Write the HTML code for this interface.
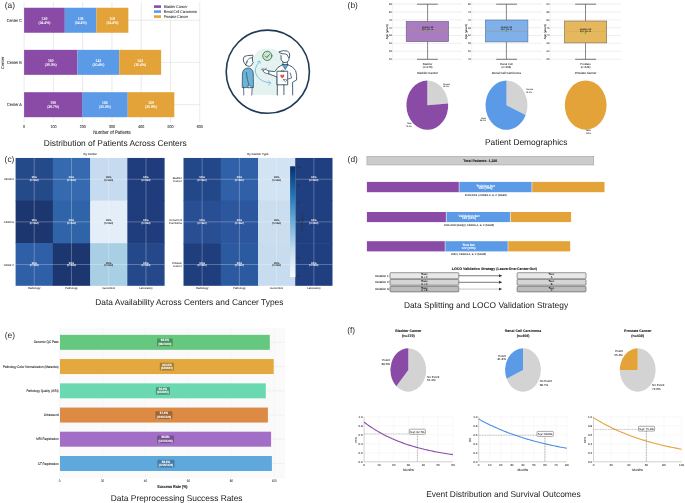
<!DOCTYPE html><html><head><meta charset="utf-8"><style>html,body{margin:0;padding:0;background:#fff;width:685px;height:503px;overflow:hidden}svg{display:block;will-change:transform}</style></head><body>
<svg width="685" height="503" viewBox="0 0 685 503" text-rendering="geometricPrecision" font-family='"Liberation Sans", sans-serif'>
<rect width="685" height="503" fill="#fff"/>
<text x="4.70" y="7.90" font-size="8.4" fill="#2a2a2a" text-anchor="start" font-weight="normal" >(a)</text>
<line x1="24.10" y1="2.30" x2="24.10" y2="121.90" stroke="#dcdcdc" stroke-width="0.6" />
<line x1="53.38" y1="2.30" x2="53.38" y2="121.90" stroke="#dcdcdc" stroke-width="0.6" />
<line x1="82.66" y1="2.30" x2="82.66" y2="121.90" stroke="#dcdcdc" stroke-width="0.6" />
<line x1="111.94" y1="2.30" x2="111.94" y2="121.90" stroke="#dcdcdc" stroke-width="0.6" />
<line x1="141.22" y1="2.30" x2="141.22" y2="121.90" stroke="#dcdcdc" stroke-width="0.6" />
<line x1="170.50" y1="2.30" x2="170.50" y2="121.90" stroke="#dcdcdc" stroke-width="0.6" />
<line x1="199.78" y1="2.30" x2="199.78" y2="121.90" stroke="#dcdcdc" stroke-width="0.6" />
<line x1="24.10" y1="20.25" x2="199.80" y2="20.25" stroke="#dcdcdc" stroke-width="0.6" />
<rect x="24.10" y="7.75" width="40.70" height="25.00" fill="#8a4ba6" />
<text transform="translate(44.45,19.55) scale(1,1.15)" font-size="3.4" fill="#fff" text-anchor="middle" font-weight="normal" stroke="#fff" stroke-width="0.068" >139</text>
<text transform="translate(44.45,23.55) scale(1,1.15)" font-size="3.4" fill="#fff" text-anchor="middle" font-weight="normal" stroke="#fff" stroke-width="0.068" >(34.4%)</text>
<rect x="64.80" y="7.75" width="31.62" height="25.00" fill="#5b9ae6" />
<text transform="translate(80.61,19.55) scale(1,1.15)" font-size="3.4" fill="#fff" text-anchor="middle" font-weight="normal" stroke="#fff" stroke-width="0.068" >108</text>
<text transform="translate(80.61,23.55) scale(1,1.15)" font-size="3.4" fill="#fff" text-anchor="middle" font-weight="normal" stroke="#fff" stroke-width="0.068" >(34.4%)</text>
<rect x="96.42" y="7.75" width="31.92" height="25.00" fill="#e3a339" />
<text transform="translate(112.38,19.55) scale(1,1.15)" font-size="3.4" fill="#fff" text-anchor="middle" font-weight="normal" stroke="#fff" stroke-width="0.068" >109</text>
<text transform="translate(112.38,23.55) scale(1,1.15)" font-size="3.4" fill="#fff" text-anchor="middle" font-weight="normal" stroke="#fff" stroke-width="0.068" >(34.4%)</text>
<text transform="translate(21.90,21.55) scale(1,1.15)" font-size="3.8" fill="#333" text-anchor="end" font-weight="normal" stroke="#333" stroke-width="0.076" >Center C</text>
<line x1="24.10" y1="62.35" x2="199.80" y2="62.35" stroke="#dcdcdc" stroke-width="0.6" />
<rect x="24.10" y="49.85" width="53.29" height="25.00" fill="#8a4ba6" />
<text transform="translate(50.74,61.65) scale(1,1.15)" font-size="3.4" fill="#fff" text-anchor="middle" font-weight="normal" stroke="#fff" stroke-width="0.068" >182</text>
<text transform="translate(50.74,65.65) scale(1,1.15)" font-size="3.4" fill="#fff" text-anchor="middle" font-weight="normal" stroke="#fff" stroke-width="0.068" >(39.3%)</text>
<rect x="77.39" y="49.85" width="41.87" height="25.00" fill="#5b9ae6" />
<text transform="translate(98.32,61.65) scale(1,1.15)" font-size="3.4" fill="#fff" text-anchor="middle" font-weight="normal" stroke="#fff" stroke-width="0.068" >143</text>
<text transform="translate(98.32,65.65) scale(1,1.15)" font-size="3.4" fill="#fff" text-anchor="middle" font-weight="normal" stroke="#fff" stroke-width="0.068" >(30.4%)</text>
<rect x="119.26" y="49.85" width="41.87" height="25.00" fill="#e3a339" />
<text transform="translate(140.20,61.65) scale(1,1.15)" font-size="3.4" fill="#fff" text-anchor="middle" font-weight="normal" stroke="#fff" stroke-width="0.068" >143</text>
<text transform="translate(140.20,65.65) scale(1,1.15)" font-size="3.4" fill="#fff" text-anchor="middle" font-weight="normal" stroke="#fff" stroke-width="0.068" >(30.4%)</text>
<text transform="translate(21.90,63.65) scale(1,1.15)" font-size="3.8" fill="#333" text-anchor="end" font-weight="normal" stroke="#333" stroke-width="0.076" >Center B</text>
<line x1="24.10" y1="104.70" x2="199.80" y2="104.70" stroke="#dcdcdc" stroke-width="0.6" />
<rect x="24.10" y="92.20" width="57.97" height="25.00" fill="#8a4ba6" />
<text transform="translate(53.09,104.00) scale(1,1.15)" font-size="3.4" fill="#fff" text-anchor="middle" font-weight="normal" stroke="#fff" stroke-width="0.068" >198</text>
<text transform="translate(53.09,108.00) scale(1,1.15)" font-size="3.4" fill="#fff" text-anchor="middle" font-weight="normal" stroke="#fff" stroke-width="0.068" >(38.7%)</text>
<rect x="82.07" y="92.20" width="45.68" height="25.00" fill="#5b9ae6" />
<text transform="translate(104.91,104.00) scale(1,1.15)" font-size="3.4" fill="#fff" text-anchor="middle" font-weight="normal" stroke="#fff" stroke-width="0.068" >156</text>
<text transform="translate(104.91,108.00) scale(1,1.15)" font-size="3.4" fill="#fff" text-anchor="middle" font-weight="normal" stroke="#fff" stroke-width="0.068" >(30.3%)</text>
<rect x="127.75" y="92.20" width="46.56" height="25.00" fill="#e3a339" />
<text transform="translate(151.03,104.00) scale(1,1.15)" font-size="3.4" fill="#fff" text-anchor="middle" font-weight="normal" stroke="#fff" stroke-width="0.068" >159</text>
<text transform="translate(151.03,108.00) scale(1,1.15)" font-size="3.4" fill="#fff" text-anchor="middle" font-weight="normal" stroke="#fff" stroke-width="0.068" >(30.9%)</text>
<text transform="translate(21.90,106.00) scale(1,1.15)" font-size="3.8" fill="#333" text-anchor="end" font-weight="normal" stroke="#333" stroke-width="0.076" >Center A</text>
<text transform="translate(24.10,127.60) scale(1,1.15)" font-size="3.6" fill="#333" text-anchor="middle" font-weight="normal" stroke="#333" stroke-width="0.072" >0</text>
<text transform="translate(53.38,127.60) scale(1,1.15)" font-size="3.6" fill="#333" text-anchor="middle" font-weight="normal" stroke="#333" stroke-width="0.072" >100</text>
<text transform="translate(82.66,127.60) scale(1,1.15)" font-size="3.6" fill="#333" text-anchor="middle" font-weight="normal" stroke="#333" stroke-width="0.072" >200</text>
<text transform="translate(111.94,127.60) scale(1,1.15)" font-size="3.6" fill="#333" text-anchor="middle" font-weight="normal" stroke="#333" stroke-width="0.072" >300</text>
<text transform="translate(141.22,127.60) scale(1,1.15)" font-size="3.6" fill="#333" text-anchor="middle" font-weight="normal" stroke="#333" stroke-width="0.072" >400</text>
<text transform="translate(170.50,127.60) scale(1,1.15)" font-size="3.6" fill="#333" text-anchor="middle" font-weight="normal" stroke="#333" stroke-width="0.072" >500</text>
<text transform="translate(199.78,127.60) scale(1,1.15)" font-size="3.6" fill="#333" text-anchor="middle" font-weight="normal" stroke="#333" stroke-width="0.072" >600</text>
<text transform="translate(112.00,133.50) scale(1,1.15)" font-size="4.4" fill="#333" text-anchor="middle" font-weight="normal" stroke="#333" stroke-width="0.088" >Number of Patients</text>
<text x="0.00" y="0.00" font-size="4.1" fill="#333" text-anchor="middle" font-weight="normal" stroke="#333" stroke-width="0.082" transform="translate(4.0,62.75) rotate(-90)">Center</text>
<rect x="151.00" y="2.80" width="48.00" height="16.70" fill="#fff" fill-opacity="0.8"/>
<rect x="154.00" y="5.30" width="7.00" height="2.60" fill="#8a4ba6" />
<text transform="translate(163.70,7.80) scale(1,1.15)" font-size="3.4" fill="#333" text-anchor="start" font-weight="normal" stroke="#333" stroke-width="0.068" >Bladder Cancer</text>
<rect x="154.00" y="10.30" width="7.00" height="2.60" fill="#5b9ae6" />
<text transform="translate(163.70,12.80) scale(1,1.15)" font-size="3.4" fill="#333" text-anchor="start" font-weight="normal" stroke="#333" stroke-width="0.068" >Renal Cell Carcinoma</text>
<rect x="154.00" y="15.30" width="7.00" height="2.60" fill="#e3a339" />
<text transform="translate(163.70,17.80) scale(1,1.15)" font-size="3.4" fill="#333" text-anchor="start" font-weight="normal" stroke="#333" stroke-width="0.068" >Prostate Cancer</text>
<text x="115.30" y="146.40" font-size="8.4" fill="#1a1a1a" text-anchor="middle" font-weight="normal" >Distribution of Patients Across Centers</text>
<g stroke-linejoin="round" stroke-linecap="round">
<circle cx="267.8" cy="71.7" r="41.6" fill="none" stroke="#1f3a56" stroke-width="1.6"/>
<path d="M252.5,95 L252.5,64 Q253.5,48.6 267,48.6 Q283.5,48.6 284,64 L284,95 Z" fill="#e4f3ef"/>
<circle cx="267.3" cy="55.9" r="4.6" fill="#c8e7cf" stroke="#2d5a45" stroke-width="0.75"/>
<path d="M265.2,56.0 L266.8,57.6 L269.4,54.6" fill="none" stroke="#2d5a45" stroke-width="0.8"/>
<path d="M259.5,61.5 Q252.5,69 257,76 Q261,82 270.5,83" fill="none" stroke="#74bde0" stroke-width="0.9"/>
<path d="M257.8,61.6 L259.8,61.0 L260.2,63.2" fill="none" stroke="#74bde0" stroke-width="0.9"/>
<path d="M268.6,81.0 L270.8,83.0 L268.6,84.9" fill="none" stroke="#74bde0" stroke-width="0.9"/>
<path d="M242.2,87.2 L242.4,74 Q242.8,68.2 248.2,68.0 Q253.0,68.2 253.3,74 L253.4,87.2 Z" fill="#6cb3d8" stroke="#1f3a56" stroke-width="0.7"/>
<path d="M246.3,72.5 Q247,80 249.3,86.2" fill="none" stroke="#1f3a56" stroke-width="0.6"/>
<path d="M248.2,85.6 L250.6,85.6 L250.8,87.6 L248.6,87.8 Z" fill="#fff" stroke="#1f3a56" stroke-width="0.5"/>
<path d="M243.6,87.2 L243.8,95 M252.2,87.2 L251.8,95" fill="none" stroke="#1f3a56" stroke-width="0.7"/>
<path d="M245.8,65.0 Q243.0,62.2 243.2,59.0 Q243.4,55.6 247.5,55.6 L252.8,55.2 Q253.0,57.0 252.4,57.6 L252.6,61.6 L253.4,62.6 L252.5,63.2 Q252.0,66.2 249.5,66.4 Q247.2,66.2 245.8,65.0 Z" fill="#fff" stroke="#1f3a56" stroke-width="0.8"/>
<path d="M252.4,57.6 Q248.6,57.8 247.3,60.4 Q246.4,62.2 246.0,64.2" fill="none" stroke="#1f3a56" stroke-width="0.7"/>
<path d="M247.8,61.6 Q246.6,61.2 246.8,62.8" fill="none" stroke="#1f3a56" stroke-width="0.5"/>
<path d="M277.3,95 L277.3,78 L276.6,76.8 L268.6,73.9 L268.4,70.9 L274.8,71.6 Q277.4,66.6 282.4,64.8 L288.0,64.8 Q293.0,66.2 295.6,70.6 Q297.2,75.5 296.6,80.0 L292.6,82.2 L292.7,95" fill="#fff" stroke="#1f3a56" stroke-width="0.8"/>
<path d="M282.4,64.8 L285.2,69.6 L288.0,64.8 Z" fill="#5aaad6" stroke="#1f3a56" stroke-width="0.55"/>
<path d="M282.9,61.6 L282.9,64.8 M287.4,61.6 L287.4,64.8" fill="none" stroke="#1f3a56" stroke-width="0.7"/>
<path d="M281.0,55.6 L281.2,59.8 Q282.5,62.6 285.0,62.7 Q288.0,62.6 288.9,59.6 L289.1,56.4" fill="#fff" stroke="#1f3a56" stroke-width="0.8"/>
<path d="M279.4,51.6 Q284.0,49.8 287.5,51.2 Q290.4,52.6 289.7,56.0 L289.3,57.9 Q288.3,57.7 287.9,56.4 Q287.5,54.3 285.4,54.0 Q282.0,54.0 279.6,52.8 Z" fill="#fff" stroke="#1f3a56" stroke-width="0.8"/>
<path d="M268.6,71.0 L265.6,69.4 L262.0,68.9 Q261.2,69.4 262.2,70.0 L264.2,70.6 L263.0,71.2 Q263.6,72.6 265.8,73.2 L268.6,73.9 Z" fill="#fff" stroke="#1f3a56" stroke-width="0.65"/>
<path d="M265.2,69.3 L266.4,68.2" fill="none" stroke="#1f3a56" stroke-width="0.6"/>
<path d="M290.2,73.0 L291.6,78.0 L286.6,79.4" fill="none" stroke="#1f3a56" stroke-width="0.7"/>
<rect x="277.3" y="71.2" width="10.4" height="13.6" fill="#fff" stroke="#1f3a56" stroke-width="0.8"/>
<path d="M281.2,71.2 L281.8,70.2 L283.4,70.2 L284.0,71.2 Z" fill="#fff" stroke="#1f3a56" stroke-width="0.5"/>
<path d="M282.3,78.4 L280.4,76.4 Q279.8,74.8 281.2,74.5 Q282.0,74.4 282.3,75.2 Q282.7,74.4 283.5,74.5 Q284.8,74.8 284.2,76.4 Z" fill="#e2584c"/>
<path d="M283.6,79.6 Q286.0,78.6 287.0,80.2 L285.4,81.6 Q284.2,81.4 283.6,79.6 Z" fill="#fff" stroke="#1f3a56" stroke-width="0.55"/>
<path d="M283.9,84.8 L283.9,94.6" fill="none" stroke="#1f3a56" stroke-width="0.8"/>
</g>
<text x="347.60" y="8.00" font-size="8.4" fill="#2a2a2a" text-anchor="start" font-weight="normal" >(b)</text>
<line x1="392.60" y1="1.20" x2="392.60" y2="62.20" stroke="#e6e6e6" stroke-width="0.5" />
<line x1="392.60" y1="4.10" x2="462.10" y2="4.10" stroke="#e2e2e2" stroke-width="0.6" />
<line x1="392.60" y1="12.00" x2="462.10" y2="12.00" stroke="#e2e2e2" stroke-width="0.6" />
<line x1="392.60" y1="19.90" x2="462.10" y2="19.90" stroke="#e2e2e2" stroke-width="0.6" />
<line x1="392.60" y1="27.70" x2="462.10" y2="27.70" stroke="#e2e2e2" stroke-width="0.6" />
<line x1="392.60" y1="35.50" x2="462.10" y2="35.50" stroke="#e2e2e2" stroke-width="0.6" />
<line x1="392.60" y1="43.30" x2="462.10" y2="43.30" stroke="#e2e2e2" stroke-width="0.6" />
<line x1="392.60" y1="51.20" x2="462.10" y2="51.20" stroke="#e2e2e2" stroke-width="0.6" />
<line x1="392.60" y1="59.20" x2="462.10" y2="59.20" stroke="#e2e2e2" stroke-width="0.6" />
<text x="391.90" y="5.05" font-size="2.6" fill="#444" text-anchor="end" font-weight="normal" stroke="#444" stroke-width="0.052" >85</text>
<text x="391.90" y="12.95" font-size="2.6" fill="#444" text-anchor="end" font-weight="normal" stroke="#444" stroke-width="0.052" >80</text>
<text x="391.90" y="20.85" font-size="2.6" fill="#444" text-anchor="end" font-weight="normal" stroke="#444" stroke-width="0.052" >75</text>
<text x="391.90" y="28.65" font-size="2.6" fill="#444" text-anchor="end" font-weight="normal" stroke="#444" stroke-width="0.052" >70</text>
<text x="391.90" y="36.45" font-size="2.6" fill="#444" text-anchor="end" font-weight="normal" stroke="#444" stroke-width="0.052" >65</text>
<text x="391.90" y="44.25" font-size="2.6" fill="#444" text-anchor="end" font-weight="normal" stroke="#444" stroke-width="0.052" >60</text>
<text x="391.90" y="52.15" font-size="2.6" fill="#444" text-anchor="end" font-weight="normal" stroke="#444" stroke-width="0.052" >55</text>
<text x="391.90" y="60.15" font-size="2.6" fill="#444" text-anchor="end" font-weight="normal" stroke="#444" stroke-width="0.052" >50</text>
<text x="0.00" y="0.00" font-size="3.0" fill="#333" text-anchor="middle" font-weight="normal" stroke="#333" stroke-width="0.060" transform="translate(388.20,31.6) rotate(-90)">Age (years)</text>
<line x1="427.60" y1="4.10" x2="427.60" y2="21.40" stroke="#555" stroke-width="0.7" />
<line x1="427.60" y1="41.70" x2="427.60" y2="59.20" stroke="#555" stroke-width="0.7" />
<line x1="417.00" y1="4.20" x2="437.80" y2="4.20" stroke="#555" stroke-width="0.8" />
<line x1="417.00" y1="59.30" x2="437.80" y2="59.30" stroke="#555" stroke-width="0.8" />
<rect x="406.20" y="21.40" width="42.40" height="20.30" fill="#a87dc0" stroke="#6a5a78" stroke-width="0.6"/>
<line x1="406.20" y1="30.70" x2="448.60" y2="30.70" stroke="#b8867a" stroke-width="0.5" />
<circle cx="427.60" cy="31.20" r="0.9" fill="#3fbf3f"/>
<text x="427.60" y="28.30" font-size="2.3" fill="#222" text-anchor="middle" font-weight="normal" stroke="#222" stroke-width="0.046" >Median: 68</text>
<text x="427.60" y="30.30" font-size="2.3" fill="#222" text-anchor="middle" font-weight="normal" stroke="#222" stroke-width="0.046" >IQR: 61-75</text>
<text x="427.60" y="65.00" font-size="2.8" fill="#333" text-anchor="middle" font-weight="normal" stroke="#333" stroke-width="0.056" >Bladder</text>
<text x="427.60" y="67.80" font-size="2.8" fill="#333" text-anchor="middle" font-weight="normal" stroke="#333" stroke-width="0.056" >(n=379)</text>
<text x="427.60" y="73.90" font-size="3.0" fill="#333" text-anchor="middle" font-weight="normal" stroke="#333" stroke-width="0.060" >Bladder Cancer</text>
<line x1="471.70" y1="1.20" x2="471.70" y2="62.20" stroke="#e6e6e6" stroke-width="0.5" />
<line x1="471.70" y1="4.10" x2="541.60" y2="4.10" stroke="#e2e2e2" stroke-width="0.6" />
<line x1="471.70" y1="12.00" x2="541.60" y2="12.00" stroke="#e2e2e2" stroke-width="0.6" />
<line x1="471.70" y1="19.90" x2="541.60" y2="19.90" stroke="#e2e2e2" stroke-width="0.6" />
<line x1="471.70" y1="27.70" x2="541.60" y2="27.70" stroke="#e2e2e2" stroke-width="0.6" />
<line x1="471.70" y1="35.50" x2="541.60" y2="35.50" stroke="#e2e2e2" stroke-width="0.6" />
<line x1="471.70" y1="43.30" x2="541.60" y2="43.30" stroke="#e2e2e2" stroke-width="0.6" />
<line x1="471.70" y1="51.20" x2="541.60" y2="51.20" stroke="#e2e2e2" stroke-width="0.6" />
<line x1="471.70" y1="59.20" x2="541.60" y2="59.20" stroke="#e2e2e2" stroke-width="0.6" />
<text x="471.00" y="5.05" font-size="2.6" fill="#444" text-anchor="end" font-weight="normal" stroke="#444" stroke-width="0.052" >80</text>
<text x="471.00" y="12.95" font-size="2.6" fill="#444" text-anchor="end" font-weight="normal" stroke="#444" stroke-width="0.052" >75</text>
<text x="471.00" y="20.85" font-size="2.6" fill="#444" text-anchor="end" font-weight="normal" stroke="#444" stroke-width="0.052" >70</text>
<text x="471.00" y="28.65" font-size="2.6" fill="#444" text-anchor="end" font-weight="normal" stroke="#444" stroke-width="0.052" >65</text>
<text x="471.00" y="36.45" font-size="2.6" fill="#444" text-anchor="end" font-weight="normal" stroke="#444" stroke-width="0.052" >60</text>
<text x="471.00" y="44.25" font-size="2.6" fill="#444" text-anchor="end" font-weight="normal" stroke="#444" stroke-width="0.052" >55</text>
<text x="471.00" y="52.15" font-size="2.6" fill="#444" text-anchor="end" font-weight="normal" stroke="#444" stroke-width="0.052" >50</text>
<text x="471.00" y="60.15" font-size="2.6" fill="#444" text-anchor="end" font-weight="normal" stroke="#444" stroke-width="0.052" >45</text>
<text x="0.00" y="0.00" font-size="3.0" fill="#333" text-anchor="middle" font-weight="normal" stroke="#333" stroke-width="0.060" transform="translate(467.30,31.6) rotate(-90)">Age (years)</text>
<line x1="506.40" y1="4.10" x2="506.40" y2="20.00" stroke="#555" stroke-width="0.7" />
<line x1="506.40" y1="41.90" x2="506.40" y2="59.20" stroke="#555" stroke-width="0.7" />
<line x1="496.20" y1="4.20" x2="517.00" y2="4.20" stroke="#555" stroke-width="0.8" />
<line x1="496.20" y1="59.30" x2="517.00" y2="59.30" stroke="#555" stroke-width="0.8" />
<rect x="485.40" y="20.00" width="42.50" height="21.90" fill="#80b0ea" stroke="#52708f" stroke-width="0.6"/>
<line x1="485.40" y1="31.30" x2="527.90" y2="31.30" stroke="#a09080" stroke-width="0.5" />
<circle cx="506.40" cy="30.90" r="0.9" fill="#3fbf3f"/>
<text x="506.40" y="28.00" font-size="2.3" fill="#222" text-anchor="middle" font-weight="normal" stroke="#222" stroke-width="0.046" >Median: 68</text>
<text x="506.40" y="30.00" font-size="2.3" fill="#222" text-anchor="middle" font-weight="normal" stroke="#222" stroke-width="0.046" >IQR: 61-75</text>
<text x="506.40" y="65.00" font-size="2.8" fill="#333" text-anchor="middle" font-weight="normal" stroke="#333" stroke-width="0.056" >Renal Cell</text>
<text x="506.40" y="67.80" font-size="2.8" fill="#333" text-anchor="middle" font-weight="normal" stroke="#333" stroke-width="0.056" >(n=408)</text>
<text x="506.40" y="73.90" font-size="3.0" fill="#333" text-anchor="middle" font-weight="normal" stroke="#333" stroke-width="0.060" >Renal Cell Carcinoma</text>
<line x1="550.10" y1="1.20" x2="550.10" y2="62.20" stroke="#e6e6e6" stroke-width="0.5" />
<line x1="550.10" y1="4.10" x2="621.00" y2="4.10" stroke="#e2e2e2" stroke-width="0.6" />
<line x1="550.10" y1="12.00" x2="621.00" y2="12.00" stroke="#e2e2e2" stroke-width="0.6" />
<line x1="550.10" y1="19.90" x2="621.00" y2="19.90" stroke="#e2e2e2" stroke-width="0.6" />
<line x1="550.10" y1="27.70" x2="621.00" y2="27.70" stroke="#e2e2e2" stroke-width="0.6" />
<line x1="550.10" y1="35.50" x2="621.00" y2="35.50" stroke="#e2e2e2" stroke-width="0.6" />
<line x1="550.10" y1="43.30" x2="621.00" y2="43.30" stroke="#e2e2e2" stroke-width="0.6" />
<line x1="550.10" y1="51.20" x2="621.00" y2="51.20" stroke="#e2e2e2" stroke-width="0.6" />
<line x1="550.10" y1="59.20" x2="621.00" y2="59.20" stroke="#e2e2e2" stroke-width="0.6" />
<text x="549.40" y="5.05" font-size="2.6" fill="#444" text-anchor="end" font-weight="normal" stroke="#444" stroke-width="0.052" >90</text>
<text x="549.40" y="12.95" font-size="2.6" fill="#444" text-anchor="end" font-weight="normal" stroke="#444" stroke-width="0.052" >85</text>
<text x="549.40" y="20.85" font-size="2.6" fill="#444" text-anchor="end" font-weight="normal" stroke="#444" stroke-width="0.052" >80</text>
<text x="549.40" y="28.65" font-size="2.6" fill="#444" text-anchor="end" font-weight="normal" stroke="#444" stroke-width="0.052" >75</text>
<text x="549.40" y="36.45" font-size="2.6" fill="#444" text-anchor="end" font-weight="normal" stroke="#444" stroke-width="0.052" >70</text>
<text x="549.40" y="44.25" font-size="2.6" fill="#444" text-anchor="end" font-weight="normal" stroke="#444" stroke-width="0.052" >65</text>
<text x="549.40" y="52.15" font-size="2.6" fill="#444" text-anchor="end" font-weight="normal" stroke="#444" stroke-width="0.052" >60</text>
<text x="549.40" y="60.15" font-size="2.6" fill="#444" text-anchor="end" font-weight="normal" stroke="#444" stroke-width="0.052" >55</text>
<text x="0.00" y="0.00" font-size="3.0" fill="#333" text-anchor="middle" font-weight="normal" stroke="#333" stroke-width="0.060" transform="translate(545.70,31.6) rotate(-90)">Age (years)</text>
<line x1="585.50" y1="4.10" x2="585.50" y2="21.00" stroke="#555" stroke-width="0.7" />
<line x1="585.50" y1="42.90" x2="585.50" y2="59.20" stroke="#555" stroke-width="0.7" />
<line x1="575.20" y1="4.20" x2="596.10" y2="4.20" stroke="#555" stroke-width="0.8" />
<line x1="575.20" y1="59.30" x2="596.10" y2="59.30" stroke="#555" stroke-width="0.8" />
<rect x="564.40" y="21.00" width="42.30" height="21.90" fill="#e6b85e" stroke="#7a6a50" stroke-width="0.6"/>
<line x1="564.40" y1="31.50" x2="606.70" y2="31.50" stroke="#d9a850" stroke-width="0.5" />
<circle cx="585.50" cy="32.90" r="0.9" fill="#3fbf3f"/>
<text x="585.50" y="30.00" font-size="2.3" fill="#222" text-anchor="middle" font-weight="normal" stroke="#222" stroke-width="0.046" >Median: 68</text>
<text x="585.50" y="32.00" font-size="2.3" fill="#222" text-anchor="middle" font-weight="normal" stroke="#222" stroke-width="0.046" >IQR: 61-75</text>
<text x="585.50" y="65.00" font-size="2.8" fill="#333" text-anchor="middle" font-weight="normal" stroke="#333" stroke-width="0.056" >Prostate</text>
<text x="585.50" y="67.80" font-size="2.8" fill="#333" text-anchor="middle" font-weight="normal" stroke="#333" stroke-width="0.056" >(n=439)</text>
<text x="585.50" y="73.90" font-size="3.0" fill="#333" text-anchor="middle" font-weight="normal" stroke="#333" stroke-width="0.060" >Prostate Cancer</text>
<path d="M427.30,105.20 L427.30,80.60 A20.9,24.6 0 0 1 448.15,103.48 Z" fill="#d3d3d3"/>
<path d="M427.30,105.20 L448.15,103.48 A20.9,24.6 0 1 1 427.30,80.60 Z" fill="#8a4ba6"/>
<text x="442.90" y="85.00" font-size="2.1" fill="#333" text-anchor="start" font-weight="normal" stroke="#333" stroke-width="0.042" >Female</text>
<text x="442.90" y="87.30" font-size="2.1" fill="#333" text-anchor="start" font-weight="normal" stroke="#333" stroke-width="0.042" >24.0%</text>
<text x="411.70" y="124.40" font-size="2.1" fill="#333" text-anchor="end" font-weight="normal" stroke="#333" stroke-width="0.042" >Male</text>
<text x="411.70" y="126.80" font-size="2.1" fill="#333" text-anchor="end" font-weight="normal" stroke="#333" stroke-width="0.042" >76.0%</text>
<path d="M506.50,105.20 L506.50,80.60 A20.9,24.6 0 0 1 525.67,115.01 Z" fill="#d3d3d3"/>
<path d="M506.50,105.20 L525.67,115.01 A20.9,24.6 0 1 1 506.50,80.60 Z" fill="#5b9ae6"/>
<text x="526.20" y="90.20" font-size="2.1" fill="#333" text-anchor="start" font-weight="normal" stroke="#333" stroke-width="0.042" >Female</text>
<text x="526.20" y="92.50" font-size="2.1" fill="#333" text-anchor="start" font-weight="normal" stroke="#333" stroke-width="0.042" >31.5%</text>
<text x="485.80" y="118.60" font-size="2.1" fill="#333" text-anchor="end" font-weight="normal" stroke="#333" stroke-width="0.042" >Male</text>
<text x="485.80" y="121.40" font-size="2.1" fill="#333" text-anchor="end" font-weight="normal" stroke="#333" stroke-width="0.042" >68.5%</text>
<ellipse cx="585.7" cy="105.1" rx="20.9" ry="24.6" fill="#e3a339"/>
<text x="588.40" y="131.20" font-size="2.1" fill="#333" text-anchor="middle" font-weight="normal" stroke="#333" stroke-width="0.042" >Male</text>
<text x="588.40" y="133.50" font-size="2.1" fill="#333" text-anchor="middle" font-weight="normal" stroke="#333" stroke-width="0.042" >100%</text>
<text x="526.20" y="145.00" font-size="8.4" fill="#1a1a1a" text-anchor="middle" font-weight="normal" >Patient Demographics</text>
<rect x="15.60" y="157.95" width="37.85" height="43.22" fill="#254a8a" />
<rect x="52.85" y="157.95" width="37.85" height="43.22" fill="#356ab0" />
<rect x="90.10" y="157.95" width="37.85" height="43.22" fill="#c6dbef" />
<rect x="127.35" y="157.95" width="37.25" height="43.22" fill="#1f3d7c" />
<rect x="15.60" y="200.57" width="37.85" height="43.22" fill="#1c3670" />
<rect x="52.85" y="200.57" width="37.85" height="43.22" fill="#3064a9" />
<rect x="90.10" y="200.57" width="37.85" height="43.22" fill="#e3eef8" />
<rect x="127.35" y="200.57" width="37.25" height="43.22" fill="#1f3d7c" />
<rect x="15.60" y="243.19" width="37.85" height="42.62" fill="#2f5fa6" />
<rect x="52.85" y="243.19" width="37.85" height="42.62" fill="#1c3670" />
<rect x="90.10" y="243.19" width="37.85" height="42.62" fill="#a8cfe4" />
<rect x="127.35" y="243.19" width="37.25" height="42.62" fill="#25488b" />
<line x1="34.23" y1="157.95" x2="34.23" y2="285.81" stroke="#ffffff" stroke-width="0.6" stroke-opacity="0.45"/>
<text x="34.23" y="289.21" font-size="2.8" fill="#333" text-anchor="middle" font-weight="normal" stroke="#333" stroke-width="0.056" >Radiology</text>
<line x1="71.47" y1="157.95" x2="71.47" y2="285.81" stroke="#ffffff" stroke-width="0.6" stroke-opacity="0.45"/>
<text x="71.47" y="289.21" font-size="2.8" fill="#333" text-anchor="middle" font-weight="normal" stroke="#333" stroke-width="0.056" >Pathology</text>
<line x1="108.72" y1="157.95" x2="108.72" y2="285.81" stroke="#ffffff" stroke-width="0.6" stroke-opacity="0.45"/>
<text x="108.72" y="289.21" font-size="2.8" fill="#333" text-anchor="middle" font-weight="normal" stroke="#333" stroke-width="0.056" >Genomics</text>
<line x1="145.97" y1="157.95" x2="145.97" y2="285.81" stroke="#ffffff" stroke-width="0.6" stroke-opacity="0.45"/>
<text x="145.97" y="289.21" font-size="2.8" fill="#333" text-anchor="middle" font-weight="normal" stroke="#333" stroke-width="0.056" >Laboratory</text>
<line x1="15.60" y1="179.26" x2="164.60" y2="179.26" stroke="#ffffff" stroke-width="0.6" stroke-opacity="0.45"/>
<text x="34.23" y="178.26" font-size="2.6" fill="#fff" text-anchor="middle" font-weight="normal" stroke="#fff" stroke-width="0.052" >95%</text>
<text x="34.23" y="181.16" font-size="2.6" fill="#fff" text-anchor="middle" font-weight="normal" stroke="#fff" stroke-width="0.052" >(n=360)</text>
<text x="71.47" y="178.26" font-size="2.6" fill="#fff" text-anchor="middle" font-weight="normal" stroke="#fff" stroke-width="0.052" >95%</text>
<text x="71.47" y="181.16" font-size="2.6" fill="#fff" text-anchor="middle" font-weight="normal" stroke="#fff" stroke-width="0.052" >(n=360)</text>
<text x="108.72" y="178.26" font-size="2.6" fill="#222" text-anchor="middle" font-weight="normal" stroke="#222" stroke-width="0.052" >95%</text>
<text x="108.72" y="181.16" font-size="2.6" fill="#222" text-anchor="middle" font-weight="normal" stroke="#222" stroke-width="0.052" >(n=360)</text>
<text x="145.97" y="178.26" font-size="2.6" fill="#fff" text-anchor="middle" font-weight="normal" stroke="#fff" stroke-width="0.052" >95%</text>
<text x="145.97" y="181.16" font-size="2.6" fill="#fff" text-anchor="middle" font-weight="normal" stroke="#fff" stroke-width="0.052" >(n=360)</text>
<text x="14.10" y="180.26" font-size="2.6" fill="#333" text-anchor="end" font-weight="normal" stroke="#333" stroke-width="0.052" >Center A</text>
<line x1="15.60" y1="221.88" x2="164.60" y2="221.88" stroke="#ffffff" stroke-width="0.6" stroke-opacity="0.45"/>
<text x="34.23" y="220.88" font-size="2.6" fill="#fff" text-anchor="middle" font-weight="normal" stroke="#fff" stroke-width="0.052" >95%</text>
<text x="34.23" y="223.78" font-size="2.6" fill="#fff" text-anchor="middle" font-weight="normal" stroke="#fff" stroke-width="0.052" >(n=360)</text>
<text x="71.47" y="220.88" font-size="2.6" fill="#fff" text-anchor="middle" font-weight="normal" stroke="#fff" stroke-width="0.052" >95%</text>
<text x="71.47" y="223.78" font-size="2.6" fill="#fff" text-anchor="middle" font-weight="normal" stroke="#fff" stroke-width="0.052" >(n=360)</text>
<text x="108.72" y="220.88" font-size="2.6" fill="#222" text-anchor="middle" font-weight="normal" stroke="#222" stroke-width="0.052" >95%</text>
<text x="108.72" y="223.78" font-size="2.6" fill="#222" text-anchor="middle" font-weight="normal" stroke="#222" stroke-width="0.052" >(n=360)</text>
<text x="145.97" y="220.88" font-size="2.6" fill="#fff" text-anchor="middle" font-weight="normal" stroke="#fff" stroke-width="0.052" >95%</text>
<text x="145.97" y="223.78" font-size="2.6" fill="#fff" text-anchor="middle" font-weight="normal" stroke="#fff" stroke-width="0.052" >(n=360)</text>
<text x="14.10" y="222.88" font-size="2.6" fill="#333" text-anchor="end" font-weight="normal" stroke="#333" stroke-width="0.052" >Center B</text>
<line x1="15.60" y1="264.50" x2="164.60" y2="264.50" stroke="#ffffff" stroke-width="0.6" stroke-opacity="0.45"/>
<text x="34.23" y="263.50" font-size="2.6" fill="#fff" text-anchor="middle" font-weight="normal" stroke="#fff" stroke-width="0.052" >95%</text>
<text x="34.23" y="266.40" font-size="2.6" fill="#fff" text-anchor="middle" font-weight="normal" stroke="#fff" stroke-width="0.052" >(n=360)</text>
<text x="71.47" y="263.50" font-size="2.6" fill="#fff" text-anchor="middle" font-weight="normal" stroke="#fff" stroke-width="0.052" >95%</text>
<text x="71.47" y="266.40" font-size="2.6" fill="#fff" text-anchor="middle" font-weight="normal" stroke="#fff" stroke-width="0.052" >(n=360)</text>
<text x="108.72" y="263.50" font-size="2.6" fill="#222" text-anchor="middle" font-weight="normal" stroke="#222" stroke-width="0.052" >95%</text>
<text x="108.72" y="266.40" font-size="2.6" fill="#222" text-anchor="middle" font-weight="normal" stroke="#222" stroke-width="0.052" >(n=360)</text>
<text x="145.97" y="263.50" font-size="2.6" fill="#fff" text-anchor="middle" font-weight="normal" stroke="#fff" stroke-width="0.052" >95%</text>
<text x="145.97" y="266.40" font-size="2.6" fill="#fff" text-anchor="middle" font-weight="normal" stroke="#fff" stroke-width="0.052" >(n=360)</text>
<text x="14.10" y="265.50" font-size="2.6" fill="#333" text-anchor="end" font-weight="normal" stroke="#333" stroke-width="0.052" >Center C</text>
<text x="90.20" y="154.65" font-size="3.0" fill="#333" text-anchor="middle" font-weight="normal" stroke="#333" stroke-width="0.060" >By Center</text>
<rect x="183.50" y="157.95" width="37.85" height="43.22" fill="#234889" />
<rect x="220.75" y="157.95" width="37.85" height="43.22" fill="#2f60a8" />
<rect x="258.00" y="157.95" width="37.85" height="43.22" fill="#d2e3f3" />
<rect x="295.25" y="157.95" width="37.25" height="43.22" fill="#1f3f80" />
<rect x="183.50" y="200.57" width="37.85" height="43.22" fill="#284e93" />
<rect x="220.75" y="200.57" width="37.85" height="43.22" fill="#2c569d" />
<rect x="258.00" y="200.57" width="37.85" height="43.22" fill="#cadeef" />
<rect x="295.25" y="200.57" width="37.25" height="43.22" fill="#1f3f80" />
<rect x="183.50" y="243.19" width="37.85" height="42.62" fill="#1f3e7d" />
<rect x="220.75" y="243.19" width="37.85" height="42.62" fill="#2c5aa0" />
<rect x="258.00" y="243.19" width="37.85" height="42.62" fill="#c7dcef" />
<rect x="295.25" y="243.19" width="37.25" height="42.62" fill="#1f3f80" />
<line x1="202.12" y1="157.95" x2="202.12" y2="285.81" stroke="#ffffff" stroke-width="0.6" stroke-opacity="0.45"/>
<text x="202.12" y="289.21" font-size="2.8" fill="#333" text-anchor="middle" font-weight="normal" stroke="#333" stroke-width="0.056" >Radiology</text>
<line x1="239.38" y1="157.95" x2="239.38" y2="285.81" stroke="#ffffff" stroke-width="0.6" stroke-opacity="0.45"/>
<text x="239.38" y="289.21" font-size="2.8" fill="#333" text-anchor="middle" font-weight="normal" stroke="#333" stroke-width="0.056" >Pathology</text>
<line x1="276.62" y1="157.95" x2="276.62" y2="285.81" stroke="#ffffff" stroke-width="0.6" stroke-opacity="0.45"/>
<text x="276.62" y="289.21" font-size="2.8" fill="#333" text-anchor="middle" font-weight="normal" stroke="#333" stroke-width="0.056" >Genomics</text>
<line x1="313.88" y1="157.95" x2="313.88" y2="285.81" stroke="#ffffff" stroke-width="0.6" stroke-opacity="0.45"/>
<text x="313.88" y="289.21" font-size="2.8" fill="#333" text-anchor="middle" font-weight="normal" stroke="#333" stroke-width="0.056" >Laboratory</text>
<line x1="183.50" y1="179.26" x2="332.50" y2="179.26" stroke="#ffffff" stroke-width="0.6" stroke-opacity="0.45"/>
<text x="202.12" y="178.26" font-size="2.6" fill="#fff" text-anchor="middle" font-weight="normal" stroke="#fff" stroke-width="0.052" >95%</text>
<text x="202.12" y="181.16" font-size="2.6" fill="#fff" text-anchor="middle" font-weight="normal" stroke="#fff" stroke-width="0.052" >(n=360)</text>
<text x="239.38" y="178.26" font-size="2.6" fill="#fff" text-anchor="middle" font-weight="normal" stroke="#fff" stroke-width="0.052" >95%</text>
<text x="239.38" y="181.16" font-size="2.6" fill="#fff" text-anchor="middle" font-weight="normal" stroke="#fff" stroke-width="0.052" >(n=360)</text>
<text x="276.62" y="178.26" font-size="2.6" fill="#222" text-anchor="middle" font-weight="normal" stroke="#222" stroke-width="0.052" >95%</text>
<text x="276.62" y="181.16" font-size="2.6" fill="#222" text-anchor="middle" font-weight="normal" stroke="#222" stroke-width="0.052" >(n=360)</text>
<text x="313.88" y="178.26" font-size="2.6" fill="#fff" text-anchor="middle" font-weight="normal" stroke="#fff" stroke-width="0.052" >95%</text>
<text x="313.88" y="181.16" font-size="2.6" fill="#fff" text-anchor="middle" font-weight="normal" stroke="#fff" stroke-width="0.052" >(n=360)</text>
<text x="182.00" y="178.86" font-size="2.7" fill="#333" text-anchor="end" font-weight="normal" stroke="#333" stroke-width="0.054" >Bladder</text>
<text x="182.00" y="181.76" font-size="2.7" fill="#333" text-anchor="end" font-weight="normal" stroke="#333" stroke-width="0.054" >Cancer</text>
<line x1="183.50" y1="221.88" x2="332.50" y2="221.88" stroke="#ffffff" stroke-width="0.6" stroke-opacity="0.45"/>
<text x="202.12" y="220.88" font-size="2.6" fill="#fff" text-anchor="middle" font-weight="normal" stroke="#fff" stroke-width="0.052" >95%</text>
<text x="202.12" y="223.78" font-size="2.6" fill="#fff" text-anchor="middle" font-weight="normal" stroke="#fff" stroke-width="0.052" >(n=360)</text>
<text x="239.38" y="220.88" font-size="2.6" fill="#fff" text-anchor="middle" font-weight="normal" stroke="#fff" stroke-width="0.052" >95%</text>
<text x="239.38" y="223.78" font-size="2.6" fill="#fff" text-anchor="middle" font-weight="normal" stroke="#fff" stroke-width="0.052" >(n=360)</text>
<text x="276.62" y="220.88" font-size="2.6" fill="#222" text-anchor="middle" font-weight="normal" stroke="#222" stroke-width="0.052" >95%</text>
<text x="276.62" y="223.78" font-size="2.6" fill="#222" text-anchor="middle" font-weight="normal" stroke="#222" stroke-width="0.052" >(n=360)</text>
<text x="313.88" y="220.88" font-size="2.6" fill="#fff" text-anchor="middle" font-weight="normal" stroke="#fff" stroke-width="0.052" >95%</text>
<text x="313.88" y="223.78" font-size="2.6" fill="#fff" text-anchor="middle" font-weight="normal" stroke="#fff" stroke-width="0.052" >(n=360)</text>
<text x="182.00" y="221.48" font-size="2.7" fill="#333" text-anchor="end" font-weight="normal" stroke="#333" stroke-width="0.054" >Renal Cell</text>
<text x="182.00" y="224.38" font-size="2.7" fill="#333" text-anchor="end" font-weight="normal" stroke="#333" stroke-width="0.054" >Carcinoma</text>
<line x1="183.50" y1="264.50" x2="332.50" y2="264.50" stroke="#ffffff" stroke-width="0.6" stroke-opacity="0.45"/>
<text x="202.12" y="263.50" font-size="2.6" fill="#fff" text-anchor="middle" font-weight="normal" stroke="#fff" stroke-width="0.052" >95%</text>
<text x="202.12" y="266.40" font-size="2.6" fill="#fff" text-anchor="middle" font-weight="normal" stroke="#fff" stroke-width="0.052" >(n=360)</text>
<text x="239.38" y="263.50" font-size="2.6" fill="#fff" text-anchor="middle" font-weight="normal" stroke="#fff" stroke-width="0.052" >95%</text>
<text x="239.38" y="266.40" font-size="2.6" fill="#fff" text-anchor="middle" font-weight="normal" stroke="#fff" stroke-width="0.052" >(n=360)</text>
<text x="276.62" y="263.50" font-size="2.6" fill="#222" text-anchor="middle" font-weight="normal" stroke="#222" stroke-width="0.052" >95%</text>
<text x="276.62" y="266.40" font-size="2.6" fill="#222" text-anchor="middle" font-weight="normal" stroke="#222" stroke-width="0.052" >(n=360)</text>
<text x="313.88" y="263.50" font-size="2.6" fill="#fff" text-anchor="middle" font-weight="normal" stroke="#fff" stroke-width="0.052" >95%</text>
<text x="313.88" y="266.40" font-size="2.6" fill="#fff" text-anchor="middle" font-weight="normal" stroke="#fff" stroke-width="0.052" >(n=360)</text>
<text x="182.00" y="264.10" font-size="2.7" fill="#333" text-anchor="end" font-weight="normal" stroke="#333" stroke-width="0.054" >Prostate</text>
<text x="182.00" y="267.00" font-size="2.7" fill="#333" text-anchor="end" font-weight="normal" stroke="#333" stroke-width="0.054" >Cancer</text>
<text x="257.90" y="154.65" font-size="3.0" fill="#333" text-anchor="middle" font-weight="normal" stroke="#333" stroke-width="0.060" >By Cancer Type</text>
<text x="4.60" y="162.40" font-size="8.4" fill="#2a2a2a" text-anchor="start" font-weight="normal" >(c)</text>
<defs><linearGradient id="blues" x1="0" y1="1" x2="0" y2="0"><stop offset="0" stop-color="#f7fbff"/><stop offset="0.25" stop-color="#c6dbef"/><stop offset="0.5" stop-color="#6baed6"/><stop offset="0.75" stop-color="#2171b5"/><stop offset="1" stop-color="#08306b"/></linearGradient></defs>
<rect x="290.10" y="166.30" width="5.30" height="110.80" fill="url(#blues)" />
<text x="297.20" y="167.60" font-size="2.4" fill="#333" text-anchor="start" font-weight="normal" stroke="#333" stroke-width="0.048" >100</text>
<text x="297.20" y="185.88" font-size="2.4" fill="#333" text-anchor="start" font-weight="normal" stroke="#333" stroke-width="0.048" >95</text>
<text x="297.20" y="204.17" font-size="2.4" fill="#333" text-anchor="start" font-weight="normal" stroke="#333" stroke-width="0.048" >90</text>
<text x="297.20" y="222.45" font-size="2.4" fill="#333" text-anchor="start" font-weight="normal" stroke="#333" stroke-width="0.048" >85</text>
<text x="297.20" y="240.73" font-size="2.4" fill="#333" text-anchor="start" font-weight="normal" stroke="#333" stroke-width="0.048" >80</text>
<text x="297.20" y="259.02" font-size="2.4" fill="#333" text-anchor="start" font-weight="normal" stroke="#333" stroke-width="0.048" >75</text>
<text x="297.20" y="277.30" font-size="2.4" fill="#333" text-anchor="start" font-weight="normal" stroke="#333" stroke-width="0.048" >70</text>
<text x="0.00" y="0.00" font-size="2.6" fill="#333" text-anchor="middle" font-weight="normal" stroke="#333" stroke-width="0.052" transform="translate(303.3,222) rotate(-90)">Percentage (%)</text>
<text x="189.30" y="304.70" font-size="8.4" fill="#1a1a1a" text-anchor="middle" font-weight="normal" >Data Availability Across Centers and Cancer Types</text>
<text x="347.60" y="161.50" font-size="8.4" fill="#2a2a2a" text-anchor="start" font-weight="normal" >(d)</text>
<rect x="366.90" y="156.30" width="226.90" height="8.70" fill="#cccccc" stroke="#9a9a9a" stroke-width="0.5"/>
<text x="480.30" y="161.90" font-size="3.55" fill="#222" text-anchor="middle" font-weight="bold" stroke="#222" stroke-width="0.071" >Total Patients: 1,226</text>
<rect x="366.90" y="181.90" width="92.20" height="10.30" fill="#8a4ba6" />
<rect x="459.10" y="181.90" width="72.80" height="10.30" fill="#5b9ae6" />
<rect x="531.90" y="181.90" width="72.60" height="10.30" fill="#e3a339" />
<line x1="459.10" y1="181.90" x2="459.10" y2="192.20" stroke="#fff" stroke-width="0.5" />
<line x1="531.90" y1="181.90" x2="531.90" y2="192.20" stroke="#fff" stroke-width="0.5" />
<text x="485.70" y="186.70" font-size="3.2" fill="#fff" text-anchor="middle" font-weight="bold" stroke="#fff" stroke-width="0.064" >Training Set</text>
<text x="485.70" y="189.40" font-size="3.0" fill="#fff" text-anchor="middle" font-weight="bold" stroke="#fff" stroke-width="0.060" >920 (75%)</text>
<text x="485.70" y="195.90" font-size="2.6" fill="#222" text-anchor="middle" font-weight="normal" stroke="#222" stroke-width="0.052" >2015-2019 | Centers A, B, C (Mixed)</text>
<rect x="366.90" y="212.00" width="79.40" height="10.10" fill="#8a4ba6" />
<rect x="446.30" y="212.00" width="64.10" height="10.10" fill="#5b9ae6" />
<rect x="510.40" y="212.00" width="60.70" height="10.10" fill="#e3a339" />
<line x1="446.30" y1="212.00" x2="446.30" y2="222.10" stroke="#fff" stroke-width="0.5" />
<line x1="510.40" y1="212.00" x2="510.40" y2="222.10" stroke="#fff" stroke-width="0.5" />
<text x="469.00" y="216.70" font-size="3.2" fill="#fff" text-anchor="middle" font-weight="bold" stroke="#fff" stroke-width="0.064" >Validation Set</text>
<text x="469.00" y="219.40" font-size="3.0" fill="#fff" text-anchor="middle" font-weight="bold" stroke="#fff" stroke-width="0.060" >184 (15%)</text>
<text x="469.00" y="225.80" font-size="2.6" fill="#222" text-anchor="middle" font-weight="normal" stroke="#222" stroke-width="0.052" >2019-2020 (Early) | Centers A, B, C (Mixed)</text>
<rect x="366.90" y="241.20" width="78.20" height="10.20" fill="#8a4ba6" />
<rect x="445.10" y="241.20" width="62.90" height="10.20" fill="#5b9ae6" />
<rect x="508.00" y="241.20" width="62.20" height="10.20" fill="#e3a339" />
<line x1="445.10" y1="241.20" x2="445.10" y2="251.40" stroke="#fff" stroke-width="0.5" />
<line x1="508.00" y1="241.20" x2="508.00" y2="251.40" stroke="#fff" stroke-width="0.5" />
<text x="468.55" y="245.95" font-size="3.2" fill="#fff" text-anchor="middle" font-weight="bold" stroke="#fff" stroke-width="0.064" >Test Set</text>
<text x="468.55" y="248.65" font-size="3.0" fill="#fff" text-anchor="middle" font-weight="bold" stroke="#fff" stroke-width="0.060" >122 (10%)</text>
<text x="468.55" y="255.10" font-size="2.6" fill="#222" text-anchor="middle" font-weight="normal" stroke="#222" stroke-width="0.052" >2020 | Centers A, B, C (Mixed)</text>
<text x="494.30" y="270.10" font-size="3.58" fill="#222" text-anchor="middle" font-weight="bold" stroke="#222" stroke-width="0.072" >LOCO Validation Strategy (Leave-One-Center-Out)</text>
<defs><marker id="ah" markerWidth="4" markerHeight="4" refX="3" refY="2" orient="auto" markerUnits="userSpaceOnUse"><path d="M0,0.3 L3.5,2 L0,3.7 Z" fill="#333"/></marker><marker id="ah2" markerWidth="4" markerHeight="4" refX="3" refY="2" orient="auto" markerUnits="userSpaceOnUse"><path d="M0,0.3 L3.5,2 L0,3.7 Z" fill="#333"/></marker></defs>
<rect x="390" y="272.7" width="68.8" height="6.10" rx="0.8" fill="#e8e8e8" stroke="#555" stroke-width="0.6"/>
<rect x="517.1" y="272.7" width="68.9" height="6.10" rx="0.8" fill="#e8e8e8" stroke="#555" stroke-width="0.6"/>
<text x="389.50" y="276.75" font-size="3.0" fill="#222" text-anchor="end" font-weight="normal" stroke="#222" stroke-width="0.060" >Iteration 1:</text>
<text x="424.40" y="275.15" font-size="2.4" fill="#222" text-anchor="middle" font-weight="bold" stroke="#222" stroke-width="0.048" >Train:</text>
<text x="424.40" y="277.95" font-size="2.4" fill="#222" text-anchor="middle" font-weight="bold" stroke="#222" stroke-width="0.048" >B + C</text>
<text x="551.50" y="275.15" font-size="2.4" fill="#222" text-anchor="middle" font-weight="bold" stroke="#222" stroke-width="0.048" >Test:</text>
<text x="551.50" y="277.95" font-size="2.4" fill="#222" text-anchor="middle" font-weight="bold" stroke="#222" stroke-width="0.048" >A</text>
<line x1="458.80" y1="275.75" x2="501.50" y2="275.75" stroke="#444" stroke-width="0.7" marker-end="url(#ah)"/>
<rect x="390" y="279.4" width="68.8" height="5.80" rx="0.8" fill="#d5d5d5" stroke="#555" stroke-width="0.6"/>
<rect x="517.1" y="279.4" width="68.9" height="5.80" rx="0.8" fill="#d5d5d5" stroke="#555" stroke-width="0.6"/>
<text x="389.50" y="283.30" font-size="3.0" fill="#222" text-anchor="end" font-weight="normal" stroke="#222" stroke-width="0.060" >Iteration 2:</text>
<text x="424.40" y="281.70" font-size="2.4" fill="#222" text-anchor="middle" font-weight="bold" stroke="#222" stroke-width="0.048" >Train:</text>
<text x="424.40" y="284.50" font-size="2.4" fill="#222" text-anchor="middle" font-weight="bold" stroke="#222" stroke-width="0.048" >A + C</text>
<text x="551.50" y="281.70" font-size="2.4" fill="#222" text-anchor="middle" font-weight="bold" stroke="#222" stroke-width="0.048" >Test:</text>
<text x="551.50" y="284.50" font-size="2.4" fill="#222" text-anchor="middle" font-weight="bold" stroke="#222" stroke-width="0.048" >B</text>
<line x1="458.80" y1="282.30" x2="501.50" y2="282.30" stroke="#444" stroke-width="0.7" marker-end="url(#ah)"/>
<rect x="390" y="286.3" width="68.8" height="5.60" rx="0.8" fill="#bcbcbc" stroke="#555" stroke-width="0.6"/>
<rect x="517.1" y="286.3" width="68.9" height="5.60" rx="0.8" fill="#bcbcbc" stroke="#555" stroke-width="0.6"/>
<text x="389.50" y="290.10" font-size="3.0" fill="#222" text-anchor="end" font-weight="normal" stroke="#222" stroke-width="0.060" >Iteration 3:</text>
<text x="424.40" y="288.50" font-size="2.4" fill="#222" text-anchor="middle" font-weight="bold" stroke="#222" stroke-width="0.048" >Train:</text>
<text x="424.40" y="291.30" font-size="2.4" fill="#222" text-anchor="middle" font-weight="bold" stroke="#222" stroke-width="0.048" >A + B</text>
<text x="551.50" y="288.50" font-size="2.4" fill="#222" text-anchor="middle" font-weight="bold" stroke="#222" stroke-width="0.048" >Test:</text>
<text x="551.50" y="291.30" font-size="2.4" fill="#222" text-anchor="middle" font-weight="bold" stroke="#222" stroke-width="0.048" >C</text>
<line x1="458.80" y1="289.10" x2="501.50" y2="289.10" stroke="#aaa" stroke-width="0.7" marker-end="url(#ah)"/>
<text x="486.00" y="308.20" font-size="8.4" fill="#1a1a1a" text-anchor="middle" font-weight="normal" >Data Splitting and LOCO Validation Strategy</text>
<text x="4.70" y="338.20" font-size="8.4" fill="#2a2a2a" text-anchor="start" font-weight="normal" >(e)</text>
<rect x="60.00" y="328.00" width="225.00" height="150.20" fill="#fafafb" />
<line x1="59.70" y1="328.00" x2="59.70" y2="478.20" stroke="#f0f0f2" stroke-width="0.5" />
<text transform="translate(59.70,481.70) scale(1,1.15)" font-size="3.0" fill="#333" text-anchor="middle" font-weight="normal" stroke="#333" stroke-width="0.060" >0</text>
<line x1="102.60" y1="328.00" x2="102.60" y2="478.20" stroke="#f0f0f2" stroke-width="0.5" />
<text transform="translate(102.60,481.70) scale(1,1.15)" font-size="3.0" fill="#333" text-anchor="middle" font-weight="normal" stroke="#333" stroke-width="0.060" >20</text>
<line x1="145.50" y1="328.00" x2="145.50" y2="478.20" stroke="#f0f0f2" stroke-width="0.5" />
<text transform="translate(145.50,481.70) scale(1,1.15)" font-size="3.0" fill="#333" text-anchor="middle" font-weight="normal" stroke="#333" stroke-width="0.060" >40</text>
<line x1="188.40" y1="328.00" x2="188.40" y2="478.20" stroke="#f0f0f2" stroke-width="0.5" />
<text transform="translate(188.40,481.70) scale(1,1.15)" font-size="3.0" fill="#333" text-anchor="middle" font-weight="normal" stroke="#333" stroke-width="0.060" >60</text>
<line x1="231.30" y1="328.00" x2="231.30" y2="478.20" stroke="#f0f0f2" stroke-width="0.5" />
<text transform="translate(231.30,481.70) scale(1,1.15)" font-size="3.0" fill="#333" text-anchor="middle" font-weight="normal" stroke="#333" stroke-width="0.060" >80</text>
<line x1="274.20" y1="328.00" x2="274.20" y2="478.20" stroke="#f0f0f2" stroke-width="0.5" />
<text transform="translate(274.20,481.70) scale(1,1.15)" font-size="3.0" fill="#333" text-anchor="middle" font-weight="normal" stroke="#333" stroke-width="0.060" >100</text>
<line x1="60.00" y1="342.35" x2="285.00" y2="342.35" stroke="#e6e6ea" stroke-width="0.5" />
<rect x="60.00" y="334.85" width="209.80" height="15.00" fill="#66c77e" />
<rect x="157.07" y="338.60" width="15.658296875" height="7.7" rx="0.9" fill="#3d7a4c" fill-opacity="0.7"/>
<text transform="translate(164.90,341.45) scale(1,1.15)" font-size="2.9" fill="#fff" text-anchor="middle" font-weight="bold" stroke="#fff" stroke-width="0.058" >98.2%</text>
<text transform="translate(164.90,344.85) scale(1,1.15)" font-size="2.7" fill="#fff" text-anchor="middle" font-weight="bold" stroke="#fff" stroke-width="0.054" >(982/1000)</text>
<text transform="translate(58.60,343.35) scale(1,1.15)" font-size="3.0" fill="#222" text-anchor="end" font-weight="normal" stroke="#222" stroke-width="0.060" >Genomic QC Pass</text>
<line x1="60.00" y1="366.55" x2="285.00" y2="366.55" stroke="#e6e6ea" stroke-width="0.5" />
<rect x="60.00" y="359.05" width="213.70" height="15.00" fill="#e3a83e" />
<rect x="159.77" y="362.80" width="14.15684375" height="7.7" rx="0.9" fill="#8a6a2e" fill-opacity="0.7"/>
<text transform="translate(166.85,365.65) scale(1,1.15)" font-size="2.9" fill="#fff" text-anchor="middle" font-weight="bold" stroke="#fff" stroke-width="0.058" >100.0%</text>
<text transform="translate(166.85,369.05) scale(1,1.15)" font-size="2.7" fill="#fff" text-anchor="middle" font-weight="bold" stroke="#fff" stroke-width="0.054" >(840/840)</text>
<text transform="translate(58.60,367.55) scale(1,1.15)" font-size="3.0" fill="#222" text-anchor="end" font-weight="normal" stroke="#222" stroke-width="0.060" >Pathology Color Normalization (Macenko)</text>
<line x1="60.00" y1="390.85" x2="285.00" y2="390.85" stroke="#e6e6ea" stroke-width="0.5" />
<rect x="60.00" y="383.35" width="205.80" height="15.00" fill="#6ad9b2" />
<rect x="155.82" y="387.10" width="14.15684375" height="7.7" rx="0.9" fill="#3b806a" fill-opacity="0.7"/>
<text transform="translate(162.90,389.95) scale(1,1.15)" font-size="2.9" fill="#fff" text-anchor="middle" font-weight="bold" stroke="#fff" stroke-width="0.058" >96.4%</text>
<text transform="translate(162.90,393.35) scale(1,1.15)" font-size="2.7" fill="#fff" text-anchor="middle" font-weight="bold" stroke="#fff" stroke-width="0.054" >(812/840)</text>
<text transform="translate(58.60,391.85) scale(1,1.15)" font-size="3.0" fill="#222" text-anchor="end" font-weight="normal" stroke="#222" stroke-width="0.060" >Pathology Quality (WSI)</text>
<line x1="60.00" y1="415.05" x2="285.00" y2="415.05" stroke="#e6e6ea" stroke-width="0.5" />
<rect x="60.00" y="407.55" width="207.90" height="15.00" fill="#dd8a45" />
<rect x="155.44" y="411.30" width="17.010828125" height="7.7" rx="0.9" fill="#86552f" fill-opacity="0.7"/>
<text transform="translate(163.95,414.15) scale(1,1.15)" font-size="2.9" fill="#fff" text-anchor="middle" font-weight="bold" stroke="#fff" stroke-width="0.058" >97.4%</text>
<text transform="translate(163.95,417.55) scale(1,1.15)" font-size="2.7" fill="#fff" text-anchor="middle" font-weight="bold" stroke="#fff" stroke-width="0.054" >(1193/1226)</text>
<text transform="translate(58.60,416.05) scale(1,1.15)" font-size="3.0" fill="#222" text-anchor="end" font-weight="normal" stroke="#222" stroke-width="0.060" >Ultrasound</text>
<line x1="60.00" y1="439.20" x2="285.00" y2="439.20" stroke="#e6e6ea" stroke-width="0.5" />
<rect x="60.00" y="431.70" width="211.10" height="15.00" fill="#a36fc6" />
<rect x="157.04" y="435.45" width="17.010828125" height="7.7" rx="0.9" fill="#644578" fill-opacity="0.7"/>
<text transform="translate(165.55,438.30) scale(1,1.15)" font-size="2.9" fill="#fff" text-anchor="middle" font-weight="bold" stroke="#fff" stroke-width="0.058" >98.8%</text>
<text transform="translate(165.55,441.70) scale(1,1.15)" font-size="2.7" fill="#fff" text-anchor="middle" font-weight="bold" stroke="#fff" stroke-width="0.054" >(1211/1226)</text>
<text transform="translate(58.60,440.20) scale(1,1.15)" font-size="3.0" fill="#222" text-anchor="end" font-weight="normal" stroke="#222" stroke-width="0.060" >MRI Registration</text>
<line x1="60.00" y1="463.50" x2="285.00" y2="463.50" stroke="#e6e6ea" stroke-width="0.5" />
<rect x="60.00" y="456.00" width="211.90" height="15.00" fill="#5fa8dc" />
<rect x="157.37" y="459.75" width="17.15975" height="7.7" rx="0.9" fill="#3d6b8c" fill-opacity="0.7"/>
<text transform="translate(165.95,462.60) scale(1,1.15)" font-size="2.9" fill="#fff" text-anchor="middle" font-weight="bold" stroke="#fff" stroke-width="0.058" >99.2%</text>
<text transform="translate(165.95,466.00) scale(1,1.15)" font-size="2.7" fill="#fff" text-anchor="middle" font-weight="bold" stroke="#fff" stroke-width="0.054" >(1216/1226)</text>
<text transform="translate(58.60,464.50) scale(1,1.15)" font-size="3.0" fill="#222" text-anchor="end" font-weight="normal" stroke="#222" stroke-width="0.060" >CT Registration</text>
<text transform="translate(172.40,488.00) scale(1,1.15)" font-size="3.65" fill="#222" text-anchor="middle" font-weight="bold" stroke="#222" stroke-width="0.073" >Success Rate (%)</text>
<text x="176.70" y="500.60" font-size="8.4" fill="#1a1a1a" text-anchor="middle" font-weight="normal" >Data Preprocessing Success Rates</text>
<text x="347.20" y="333.40" font-size="8.4" fill="#2a2a2a" text-anchor="start" font-weight="normal" >(f)</text>
<text x="408.30" y="332.10" font-size="3.56" fill="#222" text-anchor="middle" font-weight="bold" stroke="#222" stroke-width="0.071" >Bladder Cancer</text>
<text x="408.30" y="336.60" font-size="3.6" fill="#222" text-anchor="middle" font-weight="bold" stroke="#222" stroke-width="0.072" >(n=379)</text>
<path d="M408.30,370.00 L408.30,348.30 A17.9,21.7 0 1 1 396.32,386.13 Z" fill="#d3d3d3"/>
<path d="M408.30,370.00 L396.32,386.13 A17.9,21.7 0 0 1 408.30,348.30 Z" fill="#8a4ba6"/>
<text x="390.00" y="361.20" font-size="3.0" fill="#333" text-anchor="end" font-weight="normal" stroke="#333" stroke-width="0.060" >Event</text>
<text x="390.00" y="364.80" font-size="3.0" fill="#333" text-anchor="end" font-weight="normal" stroke="#333" stroke-width="0.060" >38.6%</text>
<text x="427.10" y="377.80" font-size="3.0" fill="#333" text-anchor="start" font-weight="normal" stroke="#333" stroke-width="0.060" >No Event</text>
<text x="427.10" y="381.40" font-size="3.0" fill="#333" text-anchor="start" font-weight="normal" stroke="#333" stroke-width="0.060" >61.4%</text>
<text x="523.00" y="332.10" font-size="3.56" fill="#222" text-anchor="middle" font-weight="bold" stroke="#222" stroke-width="0.071" >Renal Cell Carcinoma</text>
<text x="523.00" y="336.60" font-size="3.6" fill="#222" text-anchor="middle" font-weight="bold" stroke="#222" stroke-width="0.072" >(n=408)</text>
<path d="M523.00,370.00 L523.00,348.30 A17.9,21.7 0 1 1 506.65,378.83 Z" fill="#d3d3d3"/>
<path d="M523.00,370.00 L506.65,378.83 A17.9,21.7 0 0 1 523.00,348.30 Z" fill="#5b9ae6"/>
<text x="505.90" y="356.80" font-size="3.0" fill="#333" text-anchor="end" font-weight="normal" stroke="#333" stroke-width="0.060" >Event</text>
<text x="505.90" y="360.40" font-size="3.0" fill="#333" text-anchor="end" font-weight="normal" stroke="#333" stroke-width="0.060" >31.3%</text>
<text x="539.70" y="382.20" font-size="3.0" fill="#333" text-anchor="start" font-weight="normal" stroke="#333" stroke-width="0.060" >No Event</text>
<text x="539.70" y="385.80" font-size="3.0" fill="#333" text-anchor="start" font-weight="normal" stroke="#333" stroke-width="0.060" >68.7%</text>
<text x="637.70" y="332.10" font-size="3.56" fill="#222" text-anchor="middle" font-weight="bold" stroke="#222" stroke-width="0.071" >Prostate Cancer</text>
<text x="637.70" y="336.60" font-size="3.6" fill="#222" text-anchor="middle" font-weight="bold" stroke="#222" stroke-width="0.072" >(n=439)</text>
<path d="M637.70,370.00 L637.70,348.30 A17.9,21.7 0 1 1 619.80,370.00 Z" fill="#d3d3d3"/>
<path d="M637.70,370.00 L619.80,370.00 A17.9,21.7 0 0 1 637.70,348.30 Z" fill="#e3a339"/>
<text x="622.80" y="352.40" font-size="3.0" fill="#333" text-anchor="end" font-weight="normal" stroke="#333" stroke-width="0.060" >Event</text>
<text x="622.80" y="356.00" font-size="3.0" fill="#333" text-anchor="end" font-weight="normal" stroke="#333" stroke-width="0.060" >25.4%</text>
<text x="652.10" y="386.20" font-size="3.0" fill="#333" text-anchor="start" font-weight="normal" stroke="#333" stroke-width="0.060" >No Event</text>
<text x="652.10" y="389.80" font-size="3.0" fill="#333" text-anchor="start" font-weight="normal" stroke="#333" stroke-width="0.060" >74.6%</text>
<line x1="364.10" y1="416.80" x2="364.10" y2="461.80" stroke="#e2e2e2" stroke-width="0.45" stroke-dasharray="0.7,0.7"/>
<text x="364.10" y="465.60" font-size="3.0" fill="#333" text-anchor="middle" font-weight="normal" stroke="#333" stroke-width="0.060" >0</text>
<line x1="378.90" y1="416.80" x2="378.90" y2="461.80" stroke="#e2e2e2" stroke-width="0.45" stroke-dasharray="0.7,0.7"/>
<text x="378.90" y="465.60" font-size="3.0" fill="#333" text-anchor="middle" font-weight="normal" stroke="#333" stroke-width="0.060" >10</text>
<line x1="393.70" y1="416.80" x2="393.70" y2="461.80" stroke="#e2e2e2" stroke-width="0.45" stroke-dasharray="0.7,0.7"/>
<text x="393.70" y="465.60" font-size="3.0" fill="#333" text-anchor="middle" font-weight="normal" stroke="#333" stroke-width="0.060" >20</text>
<line x1="408.50" y1="416.80" x2="408.50" y2="461.80" stroke="#e2e2e2" stroke-width="0.45" stroke-dasharray="0.7,0.7"/>
<text x="408.50" y="465.60" font-size="3.0" fill="#333" text-anchor="middle" font-weight="normal" stroke="#333" stroke-width="0.060" >30</text>
<line x1="423.30" y1="416.80" x2="423.30" y2="461.80" stroke="#e2e2e2" stroke-width="0.45" stroke-dasharray="0.7,0.7"/>
<text x="423.30" y="465.60" font-size="3.0" fill="#333" text-anchor="middle" font-weight="normal" stroke="#333" stroke-width="0.060" >40</text>
<line x1="438.10" y1="416.80" x2="438.10" y2="461.80" stroke="#e2e2e2" stroke-width="0.45" stroke-dasharray="0.7,0.7"/>
<text x="438.10" y="465.60" font-size="3.0" fill="#333" text-anchor="middle" font-weight="normal" stroke="#333" stroke-width="0.060" >50</text>
<line x1="452.90" y1="416.80" x2="452.90" y2="461.80" stroke="#e2e2e2" stroke-width="0.45" stroke-dasharray="0.7,0.7"/>
<text x="452.90" y="465.60" font-size="3.0" fill="#333" text-anchor="middle" font-weight="normal" stroke="#333" stroke-width="0.060" >60</text>
<line x1="364.10" y1="461.80" x2="452.90" y2="461.80" stroke="#e2e2e2" stroke-width="0.45" stroke-dasharray="0.7,0.7"/>
<text x="362.70" y="462.85" font-size="3.0" fill="#333" text-anchor="end" font-weight="normal" stroke="#333" stroke-width="0.060" >0.0</text>
<line x1="364.10" y1="452.80" x2="452.90" y2="452.80" stroke="#e2e2e2" stroke-width="0.45" stroke-dasharray="0.7,0.7"/>
<text x="362.70" y="453.85" font-size="3.0" fill="#333" text-anchor="end" font-weight="normal" stroke="#333" stroke-width="0.060" >0.2</text>
<line x1="364.10" y1="443.80" x2="452.90" y2="443.80" stroke="#e2e2e2" stroke-width="0.45" stroke-dasharray="0.7,0.7"/>
<text x="362.70" y="444.85" font-size="3.0" fill="#333" text-anchor="end" font-weight="normal" stroke="#333" stroke-width="0.060" >0.4</text>
<line x1="364.10" y1="434.80" x2="452.90" y2="434.80" stroke="#e2e2e2" stroke-width="0.45" stroke-dasharray="0.7,0.7"/>
<text x="362.70" y="435.85" font-size="3.0" fill="#333" text-anchor="end" font-weight="normal" stroke="#333" stroke-width="0.060" >0.6</text>
<line x1="364.10" y1="425.80" x2="452.90" y2="425.80" stroke="#e2e2e2" stroke-width="0.45" stroke-dasharray="0.7,0.7"/>
<text x="362.70" y="426.85" font-size="3.0" fill="#333" text-anchor="end" font-weight="normal" stroke="#333" stroke-width="0.060" >0.8</text>
<line x1="364.10" y1="416.80" x2="452.90" y2="416.80" stroke="#e2e2e2" stroke-width="0.45" stroke-dasharray="0.7,0.7"/>
<text x="362.70" y="417.85" font-size="3.0" fill="#333" text-anchor="end" font-weight="normal" stroke="#333" stroke-width="0.060" >1.0</text>
<line x1="364.10" y1="416.80" x2="364.10" y2="461.80" stroke="#999" stroke-width="0.4" />
<line x1="364.10" y1="461.80" x2="452.90" y2="461.80" stroke="#999" stroke-width="0.4" />
<polyline points="364.10,422.20 365.58,423.31 367.06,424.39 368.54,425.43 370.02,426.45 371.50,427.44 372.98,428.40 374.46,429.34 375.94,430.25 377.42,431.13 378.90,431.99 380.38,432.83 381.86,433.64 383.34,434.43 384.82,435.19 386.30,435.94 387.78,436.66 389.26,437.36 390.74,438.05 392.22,438.71 393.70,439.36 395.18,439.99 396.66,440.60 398.14,441.19 399.62,441.77 401.10,442.33 402.58,442.88 404.06,443.41 405.54,443.92 407.02,444.42 408.50,444.91 409.98,445.38 411.46,445.84 412.94,446.29 414.42,446.72 415.90,447.14 417.38,447.55 418.86,447.95 420.34,448.34 421.82,448.72 423.30,449.08 424.78,449.44 426.26,449.79 427.74,450.12 429.22,450.45 430.70,450.77 432.18,451.08 433.66,451.38 435.14,451.67 436.62,451.95 438.10,452.23 439.58,452.50 441.06,452.76 442.54,453.01 444.02,453.26 445.50,453.50 446.98,453.73 448.46,453.95 449.94,454.17 451.42,454.39 452.90,454.59" fill="none" stroke="#8a4ba6" stroke-width="1.1"/>
<line x1="364.10" y1="433.90" x2="409.30" y2="433.90" stroke="#777" stroke-width="0.5" stroke-dasharray="0.9,0.7"/>
<line x1="417.38" y1="434.30" x2="417.38" y2="461.80" stroke="#555" stroke-width="0.5" stroke-dasharray="0.9,0.7"/>
<rect x="409.30" y="429.20" width="16.10" height="5.10" rx="0.8" fill="#fff" stroke="#555" stroke-width="0.5"/>
<text x="417.35" y="432.75" font-size="2.8" fill="#222" text-anchor="middle" font-weight="normal" stroke="#222" stroke-width="0.056" >5-yr: 62.7%</text>
<text x="0.00" y="0.00" font-size="2.9" fill="#333" text-anchor="middle" font-weight="normal" stroke="#333" stroke-width="0.058" transform="translate(356.80,440) rotate(-90)">PFS</text>
<text x="408.50" y="470.90" font-size="3.3" fill="#333" text-anchor="middle" font-weight="normal" stroke="#333" stroke-width="0.066" >Months</text>
<line x1="478.70" y1="416.80" x2="478.70" y2="461.80" stroke="#e2e2e2" stroke-width="0.45" stroke-dasharray="0.7,0.7"/>
<text x="478.70" y="465.60" font-size="3.0" fill="#333" text-anchor="middle" font-weight="normal" stroke="#333" stroke-width="0.060" >0</text>
<line x1="489.74" y1="416.80" x2="489.74" y2="461.80" stroke="#e2e2e2" stroke-width="0.45" stroke-dasharray="0.7,0.7"/>
<text x="489.74" y="465.60" font-size="3.0" fill="#333" text-anchor="middle" font-weight="normal" stroke="#333" stroke-width="0.060" >10</text>
<line x1="500.77" y1="416.80" x2="500.77" y2="461.80" stroke="#e2e2e2" stroke-width="0.45" stroke-dasharray="0.7,0.7"/>
<text x="500.77" y="465.60" font-size="3.0" fill="#333" text-anchor="middle" font-weight="normal" stroke="#333" stroke-width="0.060" >20</text>
<line x1="511.81" y1="416.80" x2="511.81" y2="461.80" stroke="#e2e2e2" stroke-width="0.45" stroke-dasharray="0.7,0.7"/>
<text x="511.81" y="465.60" font-size="3.0" fill="#333" text-anchor="middle" font-weight="normal" stroke="#333" stroke-width="0.060" >30</text>
<line x1="522.85" y1="416.80" x2="522.85" y2="461.80" stroke="#e2e2e2" stroke-width="0.45" stroke-dasharray="0.7,0.7"/>
<text x="522.85" y="465.60" font-size="3.0" fill="#333" text-anchor="middle" font-weight="normal" stroke="#333" stroke-width="0.060" >40</text>
<line x1="533.89" y1="416.80" x2="533.89" y2="461.80" stroke="#e2e2e2" stroke-width="0.45" stroke-dasharray="0.7,0.7"/>
<text x="533.89" y="465.60" font-size="3.0" fill="#333" text-anchor="middle" font-weight="normal" stroke="#333" stroke-width="0.060" >50</text>
<line x1="544.92" y1="416.80" x2="544.92" y2="461.80" stroke="#e2e2e2" stroke-width="0.45" stroke-dasharray="0.7,0.7"/>
<text x="544.92" y="465.60" font-size="3.0" fill="#333" text-anchor="middle" font-weight="normal" stroke="#333" stroke-width="0.060" >60</text>
<line x1="555.96" y1="416.80" x2="555.96" y2="461.80" stroke="#e2e2e2" stroke-width="0.45" stroke-dasharray="0.7,0.7"/>
<text x="555.96" y="465.60" font-size="3.0" fill="#333" text-anchor="middle" font-weight="normal" stroke="#333" stroke-width="0.060" >70</text>
<line x1="567.00" y1="416.80" x2="567.00" y2="461.80" stroke="#e2e2e2" stroke-width="0.45" stroke-dasharray="0.7,0.7"/>
<text x="567.00" y="465.60" font-size="3.0" fill="#333" text-anchor="middle" font-weight="normal" stroke="#333" stroke-width="0.060" >80</text>
<line x1="478.70" y1="461.80" x2="567.00" y2="461.80" stroke="#e2e2e2" stroke-width="0.45" stroke-dasharray="0.7,0.7"/>
<text x="477.30" y="462.85" font-size="3.0" fill="#333" text-anchor="end" font-weight="normal" stroke="#333" stroke-width="0.060" >0.0</text>
<line x1="478.70" y1="452.80" x2="567.00" y2="452.80" stroke="#e2e2e2" stroke-width="0.45" stroke-dasharray="0.7,0.7"/>
<text x="477.30" y="453.85" font-size="3.0" fill="#333" text-anchor="end" font-weight="normal" stroke="#333" stroke-width="0.060" >0.2</text>
<line x1="478.70" y1="443.80" x2="567.00" y2="443.80" stroke="#e2e2e2" stroke-width="0.45" stroke-dasharray="0.7,0.7"/>
<text x="477.30" y="444.85" font-size="3.0" fill="#333" text-anchor="end" font-weight="normal" stroke="#333" stroke-width="0.060" >0.4</text>
<line x1="478.70" y1="434.80" x2="567.00" y2="434.80" stroke="#e2e2e2" stroke-width="0.45" stroke-dasharray="0.7,0.7"/>
<text x="477.30" y="435.85" font-size="3.0" fill="#333" text-anchor="end" font-weight="normal" stroke="#333" stroke-width="0.060" >0.6</text>
<line x1="478.70" y1="425.80" x2="567.00" y2="425.80" stroke="#e2e2e2" stroke-width="0.45" stroke-dasharray="0.7,0.7"/>
<text x="477.30" y="426.85" font-size="3.0" fill="#333" text-anchor="end" font-weight="normal" stroke="#333" stroke-width="0.060" >0.8</text>
<line x1="478.70" y1="416.80" x2="567.00" y2="416.80" stroke="#e2e2e2" stroke-width="0.45" stroke-dasharray="0.7,0.7"/>
<text x="477.30" y="417.85" font-size="3.0" fill="#333" text-anchor="end" font-weight="normal" stroke="#333" stroke-width="0.060" >1.0</text>
<line x1="478.70" y1="416.80" x2="478.70" y2="461.80" stroke="#999" stroke-width="0.4" />
<line x1="478.70" y1="461.80" x2="567.00" y2="461.80" stroke="#999" stroke-width="0.4" />
<polyline points="478.70,419.05 480.17,419.86 481.64,420.66 483.12,421.44 484.59,422.21 486.06,422.96 487.53,423.70 489.00,424.43 490.47,425.14 491.94,425.83 493.42,426.52 494.89,427.19 496.36,427.85 497.83,428.49 499.30,429.13 500.77,429.75 502.25,430.36 503.72,430.96 505.19,431.54 506.66,432.12 508.13,432.68 509.61,433.24 511.08,433.78 512.55,434.31 514.02,434.83 515.49,435.35 516.96,435.85 518.43,436.34 519.91,436.83 521.38,437.30 522.85,437.77 524.32,438.23 525.79,438.67 527.26,439.11 528.74,439.54 530.21,439.97 531.68,440.38 533.15,440.79 534.62,441.19 536.10,441.58 537.57,441.97 539.04,442.34 540.51,442.71 541.98,443.08 543.45,443.43 544.92,443.78 546.40,444.12 547.87,444.46 549.34,444.79 550.81,445.11 552.28,445.43 553.75,445.74 555.23,446.05 556.70,446.35 558.17,446.64 559.64,446.93 561.11,447.21 562.59,447.49 564.06,447.76 565.53,448.03 567.00,448.29" fill="none" stroke="#4a90e2" stroke-width="1.1"/>
<line x1="478.70" y1="435.25" x2="537.00" y2="435.25" stroke="#777" stroke-width="0.5" stroke-dasharray="0.9,0.7"/>
<line x1="544.92" y1="436.40" x2="544.92" y2="461.80" stroke="#555" stroke-width="0.5" stroke-dasharray="0.9,0.7"/>
<rect x="537.00" y="431.40" width="16.30" height="5.00" rx="0.8" fill="#fff" stroke="#555" stroke-width="0.5"/>
<text x="545.15" y="434.90" font-size="2.8" fill="#222" text-anchor="middle" font-weight="normal" stroke="#222" stroke-width="0.056" >5-yr: 58.6%</text>
<text x="0.00" y="0.00" font-size="2.9" fill="#333" text-anchor="middle" font-weight="normal" stroke="#333" stroke-width="0.058" transform="translate(471.40,440) rotate(-90)">OS</text>
<text x="522.85" y="470.90" font-size="3.3" fill="#333" text-anchor="middle" font-weight="normal" stroke="#333" stroke-width="0.066" >Months</text>
<line x1="593.50" y1="416.80" x2="593.50" y2="461.80" stroke="#e2e2e2" stroke-width="0.45" stroke-dasharray="0.7,0.7"/>
<text x="593.50" y="465.60" font-size="3.0" fill="#333" text-anchor="middle" font-weight="normal" stroke="#333" stroke-width="0.060" >0</text>
<line x1="611.12" y1="416.80" x2="611.12" y2="461.80" stroke="#e2e2e2" stroke-width="0.45" stroke-dasharray="0.7,0.7"/>
<text x="611.12" y="465.60" font-size="3.0" fill="#333" text-anchor="middle" font-weight="normal" stroke="#333" stroke-width="0.060" >20</text>
<line x1="628.74" y1="416.80" x2="628.74" y2="461.80" stroke="#e2e2e2" stroke-width="0.45" stroke-dasharray="0.7,0.7"/>
<text x="628.74" y="465.60" font-size="3.0" fill="#333" text-anchor="middle" font-weight="normal" stroke="#333" stroke-width="0.060" >40</text>
<line x1="646.36" y1="416.80" x2="646.36" y2="461.80" stroke="#e2e2e2" stroke-width="0.45" stroke-dasharray="0.7,0.7"/>
<text x="646.36" y="465.60" font-size="3.0" fill="#333" text-anchor="middle" font-weight="normal" stroke="#333" stroke-width="0.060" >60</text>
<line x1="663.98" y1="416.80" x2="663.98" y2="461.80" stroke="#e2e2e2" stroke-width="0.45" stroke-dasharray="0.7,0.7"/>
<text x="663.98" y="465.60" font-size="3.0" fill="#333" text-anchor="middle" font-weight="normal" stroke="#333" stroke-width="0.060" >80</text>
<line x1="681.60" y1="416.80" x2="681.60" y2="461.80" stroke="#e2e2e2" stroke-width="0.45" stroke-dasharray="0.7,0.7"/>
<text x="681.60" y="465.60" font-size="3.0" fill="#333" text-anchor="middle" font-weight="normal" stroke="#333" stroke-width="0.060" >100</text>
<line x1="593.50" y1="461.80" x2="681.60" y2="461.80" stroke="#e2e2e2" stroke-width="0.45" stroke-dasharray="0.7,0.7"/>
<text x="592.10" y="462.85" font-size="3.0" fill="#333" text-anchor="end" font-weight="normal" stroke="#333" stroke-width="0.060" >0.0</text>
<line x1="593.50" y1="452.80" x2="681.60" y2="452.80" stroke="#e2e2e2" stroke-width="0.45" stroke-dasharray="0.7,0.7"/>
<text x="592.10" y="453.85" font-size="3.0" fill="#333" text-anchor="end" font-weight="normal" stroke="#333" stroke-width="0.060" >0.2</text>
<line x1="593.50" y1="443.80" x2="681.60" y2="443.80" stroke="#e2e2e2" stroke-width="0.45" stroke-dasharray="0.7,0.7"/>
<text x="592.10" y="444.85" font-size="3.0" fill="#333" text-anchor="end" font-weight="normal" stroke="#333" stroke-width="0.060" >0.4</text>
<line x1="593.50" y1="434.80" x2="681.60" y2="434.80" stroke="#e2e2e2" stroke-width="0.45" stroke-dasharray="0.7,0.7"/>
<text x="592.10" y="435.85" font-size="3.0" fill="#333" text-anchor="end" font-weight="normal" stroke="#333" stroke-width="0.060" >0.6</text>
<line x1="593.50" y1="425.80" x2="681.60" y2="425.80" stroke="#e2e2e2" stroke-width="0.45" stroke-dasharray="0.7,0.7"/>
<text x="592.10" y="426.85" font-size="3.0" fill="#333" text-anchor="end" font-weight="normal" stroke="#333" stroke-width="0.060" >0.8</text>
<line x1="593.50" y1="416.80" x2="681.60" y2="416.80" stroke="#e2e2e2" stroke-width="0.45" stroke-dasharray="0.7,0.7"/>
<text x="592.10" y="417.85" font-size="3.0" fill="#333" text-anchor="end" font-weight="normal" stroke="#333" stroke-width="0.060" >1.0</text>
<line x1="593.50" y1="416.80" x2="593.50" y2="461.80" stroke="#999" stroke-width="0.4" />
<line x1="593.50" y1="461.80" x2="681.60" y2="461.80" stroke="#999" stroke-width="0.4" />
<polyline points="593.50,417.70 594.97,418.61 596.44,419.50 597.90,420.38 599.37,421.23 600.84,422.07 602.31,422.89 603.78,423.70 605.25,424.49 606.72,425.26 608.18,426.01 609.65,426.75 611.12,427.48 612.59,428.18 614.06,428.88 615.52,429.56 616.99,430.23 618.46,430.88 619.93,431.52 621.40,432.14 622.87,432.76 624.34,433.36 625.80,433.94 627.27,434.52 628.74,435.08 630.21,435.64 631.68,436.18 633.14,436.71 634.61,437.23 636.08,437.73 637.55,438.23 639.02,438.72 640.49,439.19 641.96,439.66 643.42,440.12 644.89,440.57 646.36,441.01 647.83,441.44 649.30,441.86 650.76,442.27 652.23,442.67 653.70,443.07 655.17,443.45 656.64,443.83 658.11,444.21 659.58,444.57 661.04,444.93 662.51,445.27 663.98,445.62 665.45,445.95 666.92,446.28 668.38,446.60 669.85,446.91 671.32,447.22 672.79,447.52 674.26,447.82 675.73,448.11 677.20,448.39 678.66,448.67 680.13,448.94 681.60,449.20" fill="none" stroke="#e3a339" stroke-width="1.1"/>
<line x1="593.50" y1="429.40" x2="638.50" y2="429.40" stroke="#777" stroke-width="0.5" stroke-dasharray="0.9,0.7"/>
<line x1="646.36" y1="431.10" x2="646.36" y2="461.80" stroke="#555" stroke-width="0.5" stroke-dasharray="0.9,0.7"/>
<rect x="638.50" y="426.30" width="16.10" height="4.80" rx="0.8" fill="#fff" stroke="#555" stroke-width="0.5"/>
<text x="646.55" y="429.70" font-size="2.8" fill="#222" text-anchor="middle" font-weight="normal" stroke="#222" stroke-width="0.056" >5-yr: 71.2%</text>
<text x="0.00" y="0.00" font-size="2.9" fill="#333" text-anchor="middle" font-weight="normal" stroke="#333" stroke-width="0.058" transform="translate(586.20,440) rotate(-90)">MFS</text>
<text x="637.55" y="470.90" font-size="3.3" fill="#333" text-anchor="middle" font-weight="normal" stroke="#333" stroke-width="0.066" >Months</text>
<text x="503.40" y="496.80" font-size="8.4" fill="#1a1a1a" text-anchor="middle" font-weight="normal" >Event Distribution and Survival Outcomes</text>
</svg></body></html>
